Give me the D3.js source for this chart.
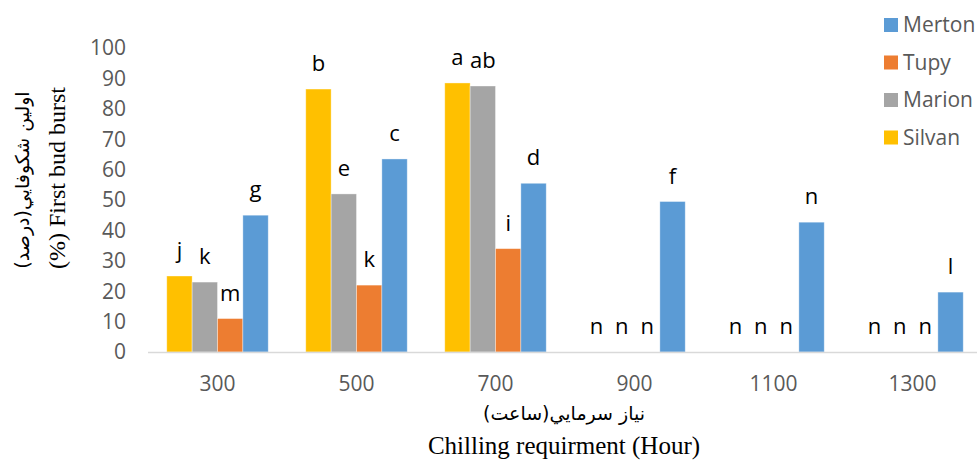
<!DOCTYPE html>
<html lang="en">
<head>
<meta charset="UTF-8">
<title>First bud burst</title>
<script src="https://cdn.jsdelivr.net/npm/d3@7"></script>
<style>
  body { margin: 0; background: #fff; }
  svg text { font-family: "Open Sans", "DejaVu Sans", sans-serif; }
</style>
</head>
<body>
<svg id="chart" width="977" height="461"></svg>
<script>
// chilling hours on the x axis
var hours = ["300", "500", "700", "900", "1100", "1300"];
// cultivars, in bar order inside each group
var cultivars = ["Silvan", "Marion", "Tupy", "Merton"];
var silvan = [25, 86.5, 88.5, 0, 0, 0];
var marion = [23, 52, 87.5, 0, 0, 0];
var tupy   = [11, 22, 34, 0, 0, 0];
var merton = [45, 63.5, 55.5, 49.5, 42.7, 19.7];
// significance letters
var silvanLetters = ["j", "b", "a", "n", "n", "n"];
var marionLetters = ["k", "e", "ab", "n", "n", "n"];
var tupyLetters   = ["m", "k", "i", "n", "n", "n"];
var mertonLetters = ["g", "c", "d", "f", "n", "l"];
var yTicks = [0, 10, 20, 30, 40, 50, 60, 70, 80, 90, 100];
var legendOrder = ["Merton", "Tupy", "Marion", "Silvan"];

var colors = { Silvan: "#FFC000", Marion: "#A5A5A5", Tupy: "#ED7D31", Merton: "#5B9BD5" };
var values = { Silvan: silvan, Marion: marion, Tupy: tupy, Merton: merton };
var letters = { Silvan: silvanLetters, Marion: marionLetters, Tupy: tupyLetters, Merton: mertonLetters };

var svg = d3.select("#chart");

var x = d3.scaleBand().domain(hours).range([148, 982]).paddingInner(0.27).paddingOuter(0.135);
var xs = d3.scaleBand().domain(cultivars).range([0, x.bandwidth()]);
var y = d3.scaleLinear().domain([0, 100]).range([352, 48]);

// y tick labels (no axis line)
svg.append("g").selectAll("text")
  .data(yTicks).enter().append("text")
  .attr("x", 126)
  .attr("y", function(d) { return y(d); })
  .attr("dy", "0.35em")
  .attr("text-anchor", "end")
  .attr("font-size", 21)
  .attr("fill", "#595959")
  .text(function(d) { return d; });

// bars
var rows = [];
hours.forEach(function(h, i) {
  cultivars.forEach(function(c) {
    rows.push({ hour: h, cultivar: c, value: values[c][i], letter: letters[c][i] });
  });
});

svg.append("g").selectAll("rect")
  .data(rows.filter(function(d) { return d.value > 0; })).enter().append("rect")
  .attr("x", function(d) { return x(d.hour) + xs(d.cultivar); })
  .attr("y", function(d) { return y(d.value); })
  .attr("width", xs.bandwidth())
  .attr("height", function(d) { return y(0) - y(d.value); })
  .attr("fill", function(d) { return colors[d.cultivar]; })
  .attr("stroke", "#fff")
  .attr("stroke-opacity", 0.45)
  .attr("stroke-width", 0.8);

// x axis line
svg.append("line")
  .attr("x1", 148).attr("x2", 977)
  .attr("y1", y(0) + 0.5).attr("y2", y(0) + 0.5)
  .attr("stroke", "#D9D9D9")
  .attr("stroke-width", 1.5);

// letters above bars
svg.append("g").selectAll("text")
  .data(rows).enter().append("text")
  .attr("x", function(d) { return x(d.hour) + xs(d.cultivar) + xs.bandwidth() / 2; })
  .attr("y", function(d) { return y(d.value) - 18; })
  .attr("text-anchor", "middle")
  .attr("font-size", 22)
  .attr("fill", "#000")
  .text(function(d) { return d.letter; });

// x tick labels
svg.append("g").selectAll("text")
  .data(hours).enter().append("text")
  .attr("x", function(d) { return x(d) + x.bandwidth() / 2; })
  .attr("y", 391)
  .attr("text-anchor", "middle")
  .attr("font-size", 21)
  .attr("fill", "#595959")
  .text(function(d) { return d; });

// axis titles
svg.append("text")
  .attr("x", 564).attr("y", 420)
  .attr("text-anchor", "middle")
  .attr("font-size", 19)
  .style("font-family", "'DejaVu Sans', serif")
  .attr("fill", "#000")
  .text("نياز سرمايي(ساعت)");

svg.append("text")
  .attr("x", 564).attr("y", 454)
  .attr("text-anchor", "middle")
  .attr("font-size", 25)
  .style("font-family", "'Liberation Serif', serif")
  .attr("fill", "#000")
  .text("Chilling requirment (Hour)");

svg.append("text")
  .attr("transform", "translate(29,180) rotate(-90)")
  .attr("text-anchor", "middle")
  .attr("font-size", 19)
  .style("font-family", "'DejaVu Sans', serif")
  .attr("fill", "#000")
  .text("اولين شكوفايي(درصد)");

svg.append("text")
  .attr("transform", "translate(65,178) rotate(-90)")
  .attr("text-anchor", "middle")
  .attr("font-size", 24)
  .style("font-family", "'Liberation Serif', serif")
  .attr("fill", "#000")
  .text("(%) First bud burst");

// legend
var legend = svg.append("g").selectAll("g")
  .data(legendOrder).enter().append("g")
  .attr("transform", function(d, i) { return "translate(884," + (25 + i * 37.5) + ")"; });
legend.append("rect")
  .attr("x", 0).attr("y", -7)
  .attr("width", 14).attr("height", 14)
  .attr("fill", function(d) { return colors[d]; });
legend.append("text")
  .attr("x", 19).attr("y", 0)
  .attr("dy", "0.35em")
  .attr("font-size", 21)
  .attr("fill", "#595959")
  .text(function(d) { return d; });
</script>
</body>
</html>
